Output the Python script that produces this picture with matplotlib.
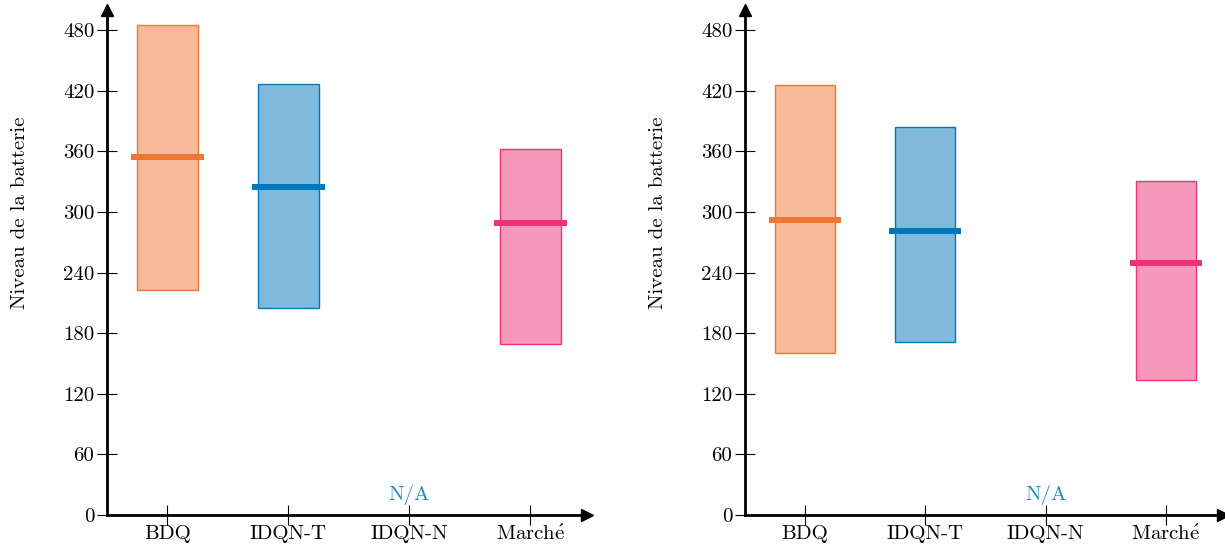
import matplotlib.pyplot as plt

plt.rcParams['font.family'] = ['cmr10', 'DejaVu Serif']
plt.rcParams['mathtext.fontset'] = 'cm'
plt.rcParams['axes.formatter.use_mathtext'] = True

categories = ['BDQ', 'IDQN-T', 'IDQN-N', r'March$\acute{\mathrm{e}}$']
colors = ['#EE7733', '#0077BB', None, '#EE3377']

# left panel: min, max, median per method (IDQN-N has no data)
left_low = [223, 205, None, 169]
left_high = [485, 427, None, 362]
left_mid = [355, 325, None, 289]

# right panel
right_low = [160, 171, None, 134]
right_high = [426, 384, None, 331]
right_mid = [292, 281, None, 250]

yticks = [0, 60, 120, 180, 240, 300, 360, 420, 480]


def draw_panel(ax, low, high, mid):
    xs = range(1, len(categories) + 1)
    for x, lo, hi, md, c in zip(xs, low, high, mid, colors):
        if lo is None:
            ax.text(x, 10, 'N/A', color='#1E88C8', ha='center', va='bottom', fontsize=15)
            continue
        ax.bar(x, hi - lo, bottom=lo, width=0.5, facecolor=c, alpha=0.5,
               edgecolor='none', zorder=2)
        ax.bar(x, hi - lo, bottom=lo, width=0.5, facecolor='none',
               edgecolor=c, linewidth=1.0, zorder=3)
        ax.plot([x - 0.3, x + 0.3], [md, md], color=c, linewidth=4.3,
                solid_capstyle='butt', zorder=4)

    ax.set_xlim(0.5, 4.47)
    ax.set_ylim(0, 500)
    ax.set_xticks(list(xs))
    ax.set_xticklabels(categories)
    ax.set_yticks(yticks)
    ax.set_yticklabels([str(v) for v in yticks])
    ax.tick_params(direction='inout', length=14, width=0.8, labelsize=15, pad=2)
    ax.tick_params(axis='x', pad=0)
    for s in ['top', 'right']:
        ax.spines[s].set_visible(False)
    for s in ['left', 'bottom']:
        ax.spines[s].set_linewidth(2)
    ax.plot(1, 0, '>k', markersize=9, transform=ax.transAxes, clip_on=False)
    ax.plot(0, 1, '^k', markersize=9, transform=ax.transAxes, clip_on=False)
    ax.set_ylabel('Niveau de la batterie', fontsize=15)
    ax.yaxis.set_label_coords(-0.163, 0.598)


fig = plt.figure(figsize=(12.25, 5.47), dpi=100)
ax1 = fig.add_axes([0.0873, 0.0585, 0.392, 0.923])
ax2 = fig.add_axes([0.608, 0.0585, 0.39, 0.923])
draw_panel(ax1, left_low, left_high, left_mid)
draw_panel(ax2, right_low, right_high, right_mid)

fig.savefig('out.png', dpi=100)
